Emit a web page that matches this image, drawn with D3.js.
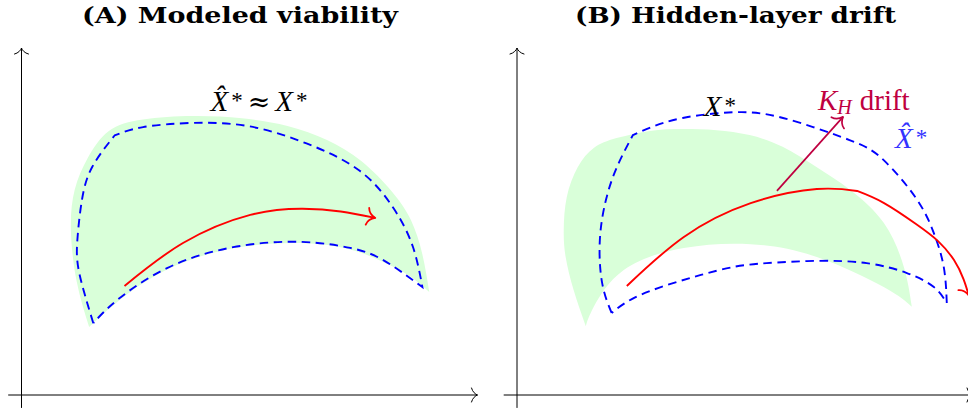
<!DOCTYPE html>
<html>
<head>
<meta charset="utf-8">
<script src="https://cdn.jsdelivr.net/npm/d3@7"></script>
<style>
  html, body { margin: 0; padding: 0; background: #fff; }
  svg { display: block; }
</style>
</head>
<body>
<svg id="chart" width="968" height="413"></svg>
<script>
// ---------------- DATA (diagram units) ----------------
const panelTitles = ["(A) Modeled viability", "(B) Hidden-layer drift"];

// Panel A: viability region (green), modeled boundary (dashed blue), trajectory (red)
const regionA_upper = [[1.78,1.79],[1.45,3.00],[1.30,4.34],[1.40,5.40],[1.75,6.25],[2.30,6.95],[3.20,7.25],[4.51,7.34],[5.80,7.28],[7.00,7.08],[8.04,6.71],[8.95,6.15],[9.75,5.35],[10.25,4.60],[10.55,3.70],[10.73,2.71]];
const regionA_lower = [[10.73,2.71],[10.20,3.14],[9.52,3.50],[8.65,3.83],[7.33,4.00],[5.57,3.86],[3.83,3.30],[2.52,2.45],[1.78,1.79]];
const boundA_left  = [[1.89,1.89],[1.52,3.21],[1.47,4.08],[1.59,5.13],[1.86,6.00],[2.45,6.83]];
const boundA_top   = [[2.45,6.83],[3.20,7.05],[4.52,7.16],[6.00,7.07],[7.50,6.62],[8.90,5.90],[9.80,4.90],[10.30,3.90],[10.55,2.84]];
const boundA_lower = [[10.55,2.84],[9.52,3.55],[8.65,3.87],[7.33,4.03],[5.57,3.89],[3.83,3.34],[2.52,2.50],[1.89,1.89]];
const trajA = [[2.71,2.87],[4.25,4.00],[6.02,4.74],[7.40,4.90],[8.40,4.83],[9.31,4.66]];

// Panel B
const regionB_upper = [[1.81,1.81],[1.49,2.76],[1.28,3.63],[1.23,4.34],[1.31,5.21],[1.60,6.00],[2.02,6.50],[2.62,6.76],[3.49,6.95],[4.36,7.00],[5.25,6.97],[6.12,6.84],[6.99,6.53],[7.88,6.00],[8.78,5.39],[9.65,4.53],[10.18,3.37],[10.39,2.32]];
const regionB_lower = [[10.39,2.32],[9.65,2.84],[7.89,3.63],[6.15,3.97],[4.39,3.87],[2.81,3.29],[2.02,2.32],[1.81,1.81]];
const boundB_left  = [[2.49,2.16],[2.24,2.95],[2.18,4.08],[2.34,5.13],[2.63,6.00],[3.05,6.84]];
const boundB_top   = [[3.05,6.84],[3.49,7.03],[4.36,7.29],[5.70,7.44],[7.00,7.29],[8.75,6.71],[9.65,6.18],[10.50,5.18],[10.97,4.26],[11.23,3.37],[11.31,2.42]];
const boundB_lower = [[11.31,2.42],[10.97,2.84],[10.26,3.21],[9.20,3.47],[7.90,3.53],[6.57,3.47],[5.70,3.37],[4.84,3.16],[3.94,2.89],[3.07,2.55],[2.49,2.16]];
const trajB_1 = [[2.89,2.87],[4.39,4.16],[6.15,5.05],[7.89,5.42],[8.95,5.37]];
const trajB_2 = [[8.95,5.37],[9.66,5.05],[10.50,4.50],[11.08,4.05],[11.50,3.55],[11.75,3.05],[11.89,2.62]];
const driftB = [[6.84,5.37],[8.58,7.32]];

// Axis extents
const axisXExtent = [-0.35, 12.0];
const axisYExtent = [-0.34, 9.13];

// Annotation anchors (diagram units)
const labelA = [6.25, 7.47];
const labelB_X = [5.34, 7.34];
const labelB_K = [7.92, 7.50];
const labelB_Xhat = [9.95, 6.50];

// ---------------- RENDER ----------------
const svg = d3.select("#chart");
const defs = svg.append("defs");

const C = {
  green: "#d9ffd9", blue: "#0000ff", red: "#ff0000",
  purple: "#bf0040", lightblue: "#3333ff", black: "#000"
};

function makeMarker(id, color, d, w) {
  defs.append("marker")
    .attr("id", id).attr("markerUnits", "userSpaceOnUse")
    .attr("markerWidth", 30).attr("markerHeight", 30)
    .attr("refX", 0).attr("refY", 0).attr("orient", "auto")
    .attr("overflow", "visible")
    .append("path").attr("d", d).attr("fill", "none").attr("stroke", color)
    .attr("stroke-width", w).attr("stroke-linecap", "round").attr("stroke-linejoin", "round");
}
const bigArrow = "M-8,-8.5 C-7,-3.8 -2.5,-0.9 0,0 C-2.5,0.9 -7,3.8 -8,8.5";
const smallArrow = "M-6,-7 C-5,-3 -2,-0.7 0,0 C-2,0.7 -5,3 -6,7";
makeMarker("arrRed", C.red, bigArrow, 1.8);
makeMarker("arrPurple", C.purple, bigArrow, 1.7);
makeMarker("arrAxis", C.black, smallArrow, 1.0);

const y = d3.scaleLinear().domain([0, 10]).range([395, 15]);
const xA = d3.scaleLinear().domain([0, 10]).range([21.5, 401.5]);
const xB = d3.scaleLinear().domain([0, 10]).range([517, 897]);

function gen(xs) {
  return d3.line().x(d => xs(d[0])).y(d => y(d[1])).curve(d3.curveNatural);
}
function joinSegs(segs) {
  return segs.map((s, i) => i === 0 ? s : s.replace(/^M/, "L")).join("");
}

const mathFont = "'Liberation Serif', 'Times New Roman', serif";
const MS = 29, SS = 23;
const DASH = "8.5,5.5";

function drawAxes(g, xs) {
  const ax = d3.scaleLinear().domain(axisXExtent).range(axisXExtent.map(xs));
  const ay = d3.scaleLinear().domain(axisYExtent).range(axisYExtent.map(y));
  const gx = g.append("g").attr("transform", `translate(-0.5,${y(0) - 0.5})`)
    .call(d3.axisBottom(ax).tickValues([]).tickSizeOuter(0));
  gx.select(".domain").attr("stroke", C.black).attr("stroke-width", 1).attr("marker-end", "url(#arrAxis)");
  const gy = g.append("g").attr("transform", `translate(${xs(0) - 0.5},-0.5)`)
    .call(d3.axisLeft(ay).tickValues([]).tickSizeOuter(0));
  gy.select(".domain").attr("stroke", C.black).attr("stroke-width", 1).attr("marker-end", "url(#arrAxis)");
}

function drawTitle(g, xs, text, width) {
  g.append("text").attr("x", xs(5.75)).attr("y", 23)
    .attr("text-anchor", "middle")
    .attr("font-family", "'DejaVu Serif', serif").attr("font-weight", "bold")
    .attr("font-size", 23).attr("textLength", width).attr("lengthAdjust", "spacingAndGlyphs")
    .attr("fill", C.black).text(text);
}

// ---------- Panel A ----------
const gA = svg.append("g");
const lA = gen(xA);
gA.append("path").attr("d", joinSegs([lA(regionA_upper), lA(regionA_lower)]) + "Z")
  .attr("fill", C.green).attr("stroke", "none");
drawAxes(gA, xA);
gA.append("path").attr("d", joinSegs([lA(boundA_left), lA(boundA_top), lA(boundA_lower)]))
  .attr("fill", "none").attr("stroke", C.blue).attr("stroke-width", 1.9).attr("stroke-dasharray", DASH);
gA.append("path").attr("d", lA(trajA))
  .attr("fill", "none").attr("stroke", C.red).attr("stroke-width", 1.9).attr("marker-end", "url(#arrRed)");
drawTitle(gA, xA, panelTitles[0], 316);

const tA = gA.append("text").attr("x", xA(labelA[0])).attr("y", y(labelA[1]))
  .attr("text-anchor", "middle").attr("font-family", mathFont).attr("font-size", MS).attr("fill", C.black);
tA.append("tspan").attr("font-style", "italic").text("X\u0302");
tA.append("tspan").attr("font-size", SS).attr("dx", 3).attr("dy", -3).text("*");
tA.append("tspan").attr("font-family", "'DejaVu Serif', serif").attr("font-size", 27).attr("dx", 5).attr("dy", 3).text("\u2248");
tA.append("tspan").attr("font-style", "italic").attr("dx", 5).text("X");
tA.append("tspan").attr("font-size", SS).attr("dx", 3).attr("dy", -3).text("*");

// ---------- Panel B ----------
const gB = svg.append("g");
const lB = gen(xB);
gB.append("path").attr("d", joinSegs([lB(regionB_upper), lB(regionB_lower)]) + "Z")
  .attr("fill", C.green).attr("stroke", "none");
drawAxes(gB, xB);
gB.append("path").attr("d", joinSegs([lB(boundB_left), lB(boundB_top), lB(boundB_lower)]))
  .attr("fill", "none").attr("stroke", C.blue).attr("stroke-width", 1.9).attr("stroke-dasharray", DASH);
gB.append("path").attr("d", joinSegs([lB(trajB_1), lB(trajB_2)]))
  .attr("fill", "none").attr("stroke", C.red).attr("stroke-width", 1.9)
  .attr("marker-end", "url(#arrRed)");
gB.append("path").attr("d", d3.line().x(d => xB(d[0])).y(d => y(d[1]))(driftB))
  .attr("fill", "none").attr("stroke", C.purple).attr("stroke-width", 1.7).attr("marker-end", "url(#arrPurple)");
drawTitle(gB, xB, panelTitles[1], 321);

const tBX = gB.append("text").attr("x", xB(labelB_X[0])).attr("y", y(labelB_X[1]))
  .attr("text-anchor", "middle").attr("font-family", mathFont).attr("font-size", MS).attr("fill", C.black);
tBX.append("tspan").attr("font-style", "italic").text("X");
tBX.append("tspan").attr("font-size", SS).attr("dx", 3).attr("dy", -3).text("*");

const tBK = gB.append("text").attr("x", xB(labelB_K[0])).attr("y", y(labelB_K[1]))
  .attr("text-anchor", "start").attr("font-family", mathFont).attr("font-size", MS).attr("fill", C.purple);
tBK.append("tspan").attr("font-style", "italic").text("K");
tBK.append("tspan").attr("font-style", "italic").attr("font-size", 20).attr("dx", 0).attr("dy", 4).text("H");
tBK.append("tspan").attr("dx", 8).attr("dy", -4).text("drift");

const tBH = gB.append("text").attr("x", xB(labelB_Xhat[0])).attr("y", y(labelB_Xhat[1]))
  .attr("text-anchor", "start").attr("font-family", mathFont).attr("font-size", MS).attr("fill", C.lightblue);
tBH.append("tspan").attr("font-style", "italic").text("X\u0302");
tBH.append("tspan").attr("font-size", SS).attr("dx", 3).attr("dy", -3).text("*");
</script>
</body>
</html>
